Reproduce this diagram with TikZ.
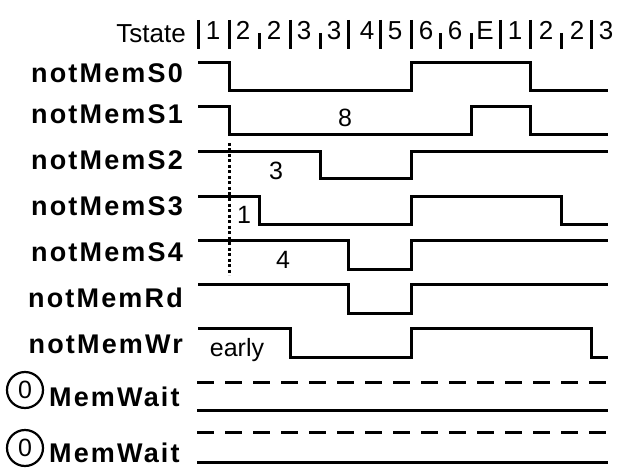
\documentclass[tikz,border=0pt]{standalone}
\usepackage{fontspec}
\setmainfont{Liberation Sans}
\newfontfamily\sigfamily[LetterSpace=8]{Liberation Sans}
\newcommand\siglabelfont{\sigfamily\bfseries\fontsize{27}{32}\selectfont}
\newcommand\numlabelfont{\fontsize{25}{29}\selectfont}
\newcommand\statefont{\fontsize{26}{30}\selectfont}
\begin{document}
\begin{tikzpicture}
[x=1pt,y=-1pt,%
  wave/.style={line width=3pt,line join=miter},%
  tick/.style={line width=3pt},%
  sig/.style={font=\siglabelfont,anchor=base east,inner sep=0pt},%
  num/.style={font=\numlabelfont,anchor=base,inner sep=0pt},%
  tst/.style={font=\statefont,anchor=base,inner sep=0pt}]
\useasboundingbox (0,0) rectangle (617,470);
% Tstate row
\node[tst,anchor=base east] (tstate) at (186,43) {Tstate};
\foreach \x in {198,229,290,348,380,411,500,530,591}
  \draw[tick] (\x,20) -- (\x,49);
\foreach \x in {259,320,440,471,561}
  \draw[tick] (\x,33) -- (\x,49);
\foreach \x/\t [count=\i] in {213/1,243/2,274/2,304/3,334/3,367/4,395/5,%
  426/6,455/6,485/E,515/1,546/2,577/2,606/3}
  \node[tst] (ts\i) at (\x,40) {\t};
% signal names
\node[sig] (s0) at (183,83) {notMemS0};
\node[sig] (s1) at (183,124) {notMemS1};
\node[sig] (s2) at (183,170) {notMemS2};
\node[sig] (s3) at (183,215) {notMemS3};
\node[sig] (s4) at (183,261) {notMemS4};
\node[sig] (rd) at (183,307) {notMemRd};
\node[sig] (wr) at (183,353) {notMemWr};
\node[draw,circle,line width=2.2pt,minimum size=36pt,inner sep=0pt,font=\numlabelfont]
  (w1) at (25,390) {0};
\node[sig,anchor=base west] (m1) at (49,406) {MemWait};
\node[draw,circle,line width=2.2pt,minimum size=36pt,inner sep=0pt,font=\numlabelfont]
  (w2) at (25,448) {0};
\node[sig,anchor=base west] (m2) at (49,462) {MemWait};
% waveforms
\draw[wave] (198,63) -| (229,91) -| (411,63) -| (530,91) -- (608,91);
\draw[wave] (198,107) -| (229,135) -| (471,107) -| (530,135) -- (608,135);
\draw[wave] (198,152) -| (320,179) -| (411,152) -- (608,152);
\draw[wave] (198,196) -| (259,224) -| (411,196) -| (561,224) -- (608,224);
\draw[wave] (198,240) -| (348,269) -| (411,240) -- (608,240);
\draw[wave] (198,284) -| (348,313) -| (411,284) -- (608,284);
\draw[wave] (198,328) -| (290,357) -| (411,328) -| (591,357) -- (608,357);
\draw[wave,dash pattern=on 17pt off 11pt] (197,382) -- (608,382);
\draw[wave] (197,410) -- (608,410);
\draw[wave,dash pattern=on 17pt off 11pt] (197,432) -- (608,432);
\draw[wave] (197,462) -- (608,462);
\draw[line width=3pt,dash pattern=on 3pt off 2.5pt] (229,143) -- (229,275);
% counts
\node[num] (n8) at (345,127) {8};
\node[num] (n3) at (276,180) {3};
\node[num] (n1) at (244,223) {1};
\node[num] (n4) at (283,268) {4};
\node[num] (early) at (237,356) {early};
\end{tikzpicture}
\end{document}
